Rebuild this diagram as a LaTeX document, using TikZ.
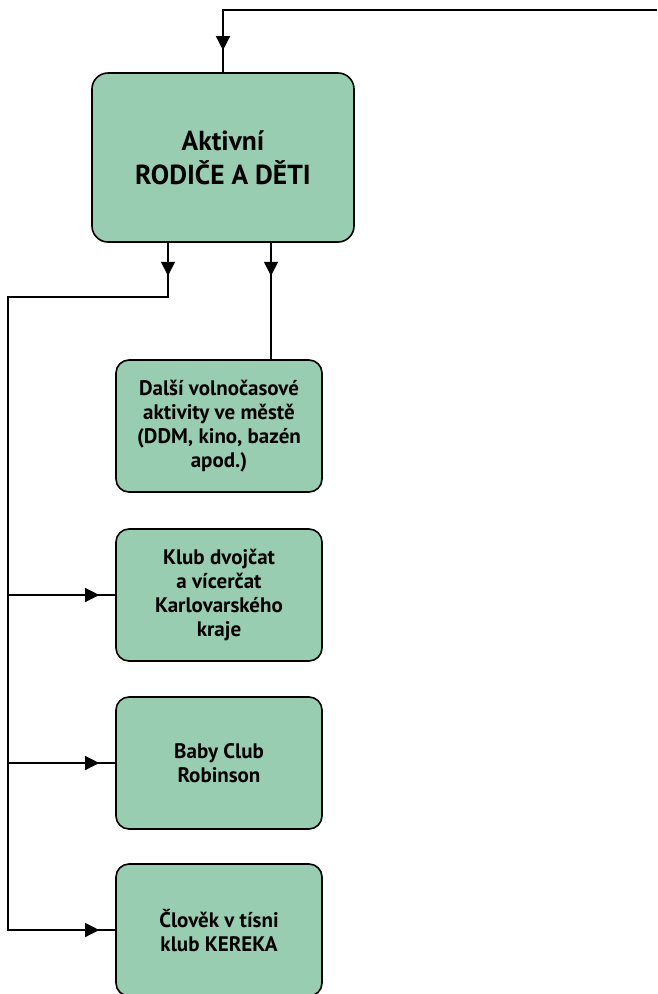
\documentclass[tikz,border=0pt]{standalone}
\usepackage{fontspec}
\setmainfont{PT Sans}
\usetikzlibrary{arrows.meta,decorations.markings,calc}
\definecolor{boxgreen}{HTML}{99CDB1}
\tikzset{
  box/.style={draw=black,line width=1.6pt,fill=boxgreen,rounded corners=13pt,
    align=center,font=\bfseries\fontsize{21}{24}\selectfont,
    minimum width=206pt,minimum height=132pt,inner sep=0pt},
  mainbox/.style={box,rounded corners=16pt,minimum width=262pt,minimum height=169pt,
    font=\bfseries\fontsize{27.5}{34}\selectfont},
  conn/.style={line width=1.3pt,draw=black},
  tipat/.style={postaction={decorate},decoration={markings,
    mark=at position #1 with {\arrow{Triangle[width=14pt,length=14pt]}}}},
}
\begin{document}
\begin{tikzpicture}[x=1pt,y=-1pt]
\useasboundingbox (0,0) rectangle (657,994);
\node[mainbox] (main) at (223,157.5) {Aktivní\\RODIČE A DĚTI};
\node[box] (b2) at (219,426) {Další volnočasové\\aktivity ve městě\\(DDM, kino, bazén\\apod.)};
\node[box] (b3) at (219,595) {Klub dvojčat\\a vícerčat\\Karlovarského\\kraje};
\node[box] (b4) at (219,763) {Baby Club\\Robinson};
\node[box] (b5) at (219,930) {Člověk v tísni\\klub KEREKA};
\coordinate (topR) at (657,10);
\coordinate (busTop) at (8,297);
% top feed
\draw[conn,tipat=-22pt] (topR) -| (main.north);
% to b2
\draw[conn,tipat=33pt] ([xshift=48pt]main.south) -- ([xshift=52pt]b2.north);
% left bus
\draw[conn,tipat=33pt] ([xshift=-55pt]main.south) |- (busTop) |- (b5.west);
\draw[conn,tipat=-16pt] (b5.west -| busTop) -- (b5.west);
\draw[conn,tipat=-16pt] (b3.west -| busTop) -- (b3.west);
\draw[conn,tipat=-16pt] (b4.west -| busTop) -- (b4.west);
\end{tikzpicture}
\end{document}
